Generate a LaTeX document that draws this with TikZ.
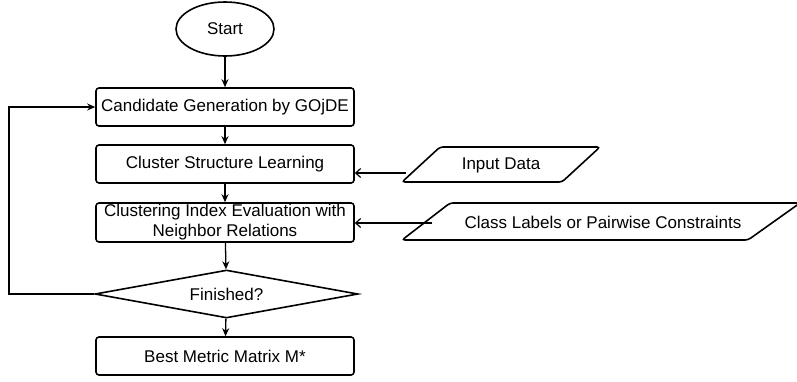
\documentclass[tikz,border=0pt]{standalone}
\usepackage{fontspec}
\setmainfont{Liberation Sans}
\usetikzlibrary{shapes.geometric,arrows.meta}
\begin{document}
\begin{tikzpicture}[x=1pt,y=-1pt,
  lbl/.style={font=\fontsize{17}{20}\selectfont, inner sep=0pt, align=center},
  box/.style={lbl, draw, line width=1.6pt, rounded corners=3pt, minimum width=258pt, minimum height=38pt},
  flow/.style={line width=1.3pt, -{Stealth[length=8pt,width=7pt]}},
  side/.style={line width=1.2pt, -{Straight Barb[length=5pt,width=9pt]}},
  para/.style={line width=1.6pt, rounded corners=3pt}
]
\useasboundingbox (0,0) rectangle (797,381);

% main flow
\node[lbl, draw, ellipse, line width=1.6pt, minimum width=98pt, minimum height=54pt] (start) at (225,29) {Start};
\node[box] (c1) at (225,107) {Candidate Generation by GOjDE};
\node[box] (c2) at (225,164) {Cluster Structure Learning};
\node[box, minimum height=39pt] (c3) at (225,222.5) {Clustering Index Evaluation with\\Neighbor Relations};
\node[lbl, draw, diamond, aspect=5.5, line width=1.6pt, minimum width=263pt, minimum height=48pt] (dec) at (226.5,294) {Finished?};
\node[box] (out) at (225,356) {Best Metric Matrix M*};

% inputs
\draw[para] (402,182) -- (562,182) -- (600,147) -- (440,147) -- cycle;
\node[lbl] (inp) at (501,165) {Input Data};
\draw[para] (402,240) -- (748,240) -- (800,203) -- (450,203) -- cycle;
\node[lbl] (cls) at (603,222) {Class Labels or Pairwise Constraints};

\coordinate (inpL) at (406,173);
\coordinate (clsL) at (432,223);
\coordinate (fb) at (9,294);

% connectors
\draw[flow] (start) -- (c1);
\draw[flow] (c1) -- (c2);
\draw[flow] (c2) -- (c3);
\draw[flow] (c3) -- (dec);
\draw[flow] (dec) -- (out);
\draw[flow] (dec.west) -- (fb) |- (c1.west);
\draw[side] (inpL) -- (c2.east |- inpL);
\draw[side] (clsL) -- (c3.east |- clsL);
\end{tikzpicture}
\end{document}
